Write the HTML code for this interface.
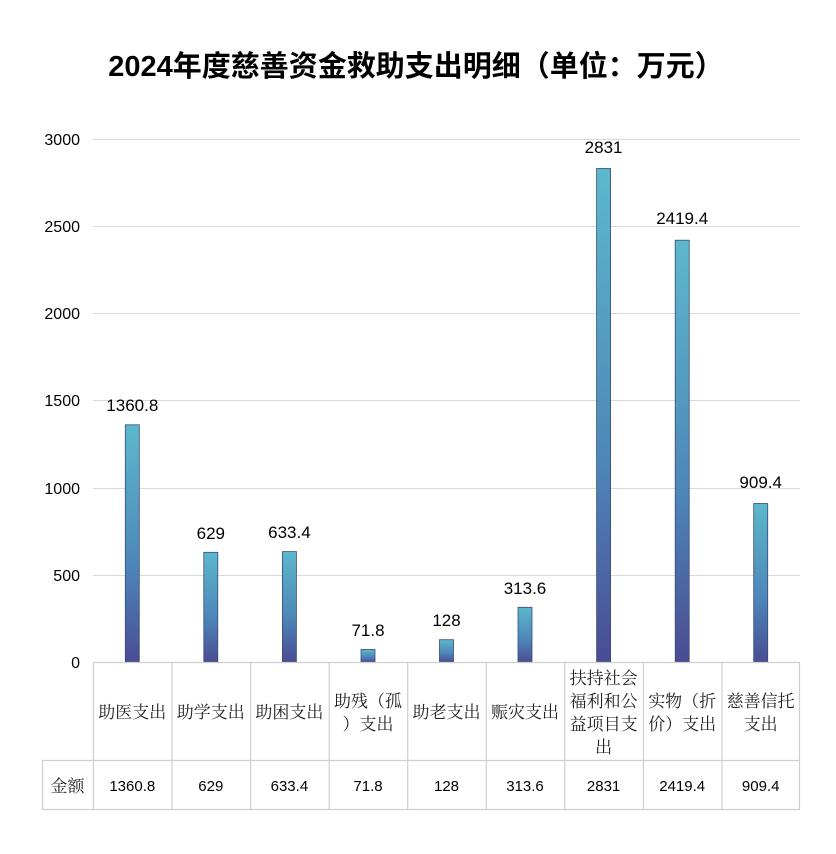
<!DOCTYPE html>
<html><head><meta charset="utf-8"><style>
body{margin:0;background:#fff;}
</style></head><body>
<svg width="836" height="849" xmlns="http://www.w3.org/2000/svg" font-family="Liberation Sans, Noto Sans CJK SC, sans-serif">
<defs><linearGradient id="g" x1="0" y1="0" x2="0" y2="1">
<stop offset="0" stop-color="#5cb8cc"/><stop offset="0.6" stop-color="#4d86b8"/><stop offset="1" stop-color="#4a4c92"/></linearGradient></defs>
<text x="416" y="76" text-anchor="middle" font-size="29" font-weight="bold" fill="#000">2024年度慈善资金救助支出明细（单位：万元）</text>
<g stroke="#d9d9d9" stroke-width="1">
<line x1="93" y1="139.5" x2="800" y2="139.5"/><line x1="93" y1="226.5" x2="800" y2="226.5"/>
<line x1="93" y1="313.5" x2="800" y2="313.5"/><line x1="93" y1="400.5" x2="800" y2="400.5"/>
<line x1="93" y1="488.5" x2="800" y2="488.5"/><line x1="93" y1="575.5" x2="800" y2="575.5"/>
</g>
<g font-size="16" fill="#000" text-anchor="end">
<text x="80" y="145">3000</text><text x="80" y="232">2500</text><text x="80" y="319">2000</text>
<text x="80" y="406">1500</text><text x="80" y="494">1000</text><text x="80" y="581">500</text><text x="80" y="668">0</text>
</g>
<g fill="url(#g)" stroke="#3a4a7a" stroke-width="0.8">
<rect x="125.3" y="424.8" width="14" height="237.2"/>
<rect x="203.8" y="552.3" width="14" height="109.7"/>
<rect x="282.4" y="551.6" width="14" height="110.4"/>
<rect x="361" y="649.5" width="14" height="12.5"/>
<rect x="439.5" y="639.7" width="14" height="22.3"/>
<rect x="518" y="607.3" width="14" height="54.7"/>
<rect x="596.6" y="168.5" width="14" height="493.5"/>
<rect x="675.2" y="240.2" width="14" height="421.8"/>
<rect x="753.7" y="503.5" width="14" height="158.5"/>
</g>
<g font-size="17" fill="#000" text-anchor="middle">
<text x="132.3" y="411">1360.8</text><text x="210.8" y="539">629</text><text x="289.4" y="538">633.4</text>
<text x="368" y="636">71.8</text><text x="446.5" y="626">128</text><text x="525" y="594">313.6</text>
<text x="603.6" y="153">2831</text><text x="682.2" y="224">2419.4</text><text x="760.7" y="488">909.4</text>
</g>
<g stroke="#cfcfcf" stroke-width="1.2" fill="none">
<line x1="93" y1="662.5" x2="800" y2="662.5"/>
<line x1="42" y1="760.5" x2="800" y2="760.5"/>
<line x1="42" y1="809.5" x2="800" y2="809.5"/>
<line x1="42.5" y1="760" x2="42.5" y2="810"/>
<line x1="93.5" y1="662" x2="93.5" y2="810"/><line x1="172" y1="662" x2="172" y2="810"/>
<line x1="250.6" y1="662" x2="250.6" y2="810"/><line x1="329.2" y1="662" x2="329.2" y2="810"/>
<line x1="407.7" y1="662" x2="407.7" y2="810"/><line x1="486.3" y1="662" x2="486.3" y2="810"/>
<line x1="564.8" y1="662" x2="564.8" y2="810"/><line x1="643.4" y1="662" x2="643.4" y2="810"/>
<line x1="722" y1="662" x2="722" y2="810"/><line x1="799.5" y1="662" x2="799.5" y2="810"/>
</g>
<g font-family="Noto Serif CJK SC, Liberation Serif, serif" font-size="17" fill="#222" text-anchor="middle">
<text x="132.3" y="718">助医支出</text><text x="210.8" y="718">助学支出</text>
<text x="289.4" y="718">助困支出</text>
<text x="368" y="707">助残（孤</text><text x="368" y="730">）支出</text>
<text x="446.5" y="718">助老支出</text><text x="525" y="718">赈灾支出</text>
<text x="603.6" y="684">扶持社会</text><text x="603.6" y="707">福利和公</text>
<text x="603.6" y="730">益项目支</text><text x="603.6" y="753">出</text>
<text x="682.2" y="707">实物（折</text><text x="682.2" y="730">价）支出</text>
<text x="760.7" y="707">慈善信托</text><text x="760.7" y="730">支出</text>
<text x="67.5" y="792">金额</text>
</g>
<g font-size="15" fill="#000" text-anchor="middle">
<text x="132.3" y="791">1360.8</text><text x="210.8" y="791">629</text><text x="289.4" y="791">633.4</text>
<text x="368" y="791">71.8</text><text x="446.5" y="791">128</text><text x="525" y="791">313.6</text>
<text x="603.6" y="791">2831</text><text x="682.2" y="791">2419.4</text><text x="760.7" y="791">909.4</text>
</g>
</svg>
</body></html>
